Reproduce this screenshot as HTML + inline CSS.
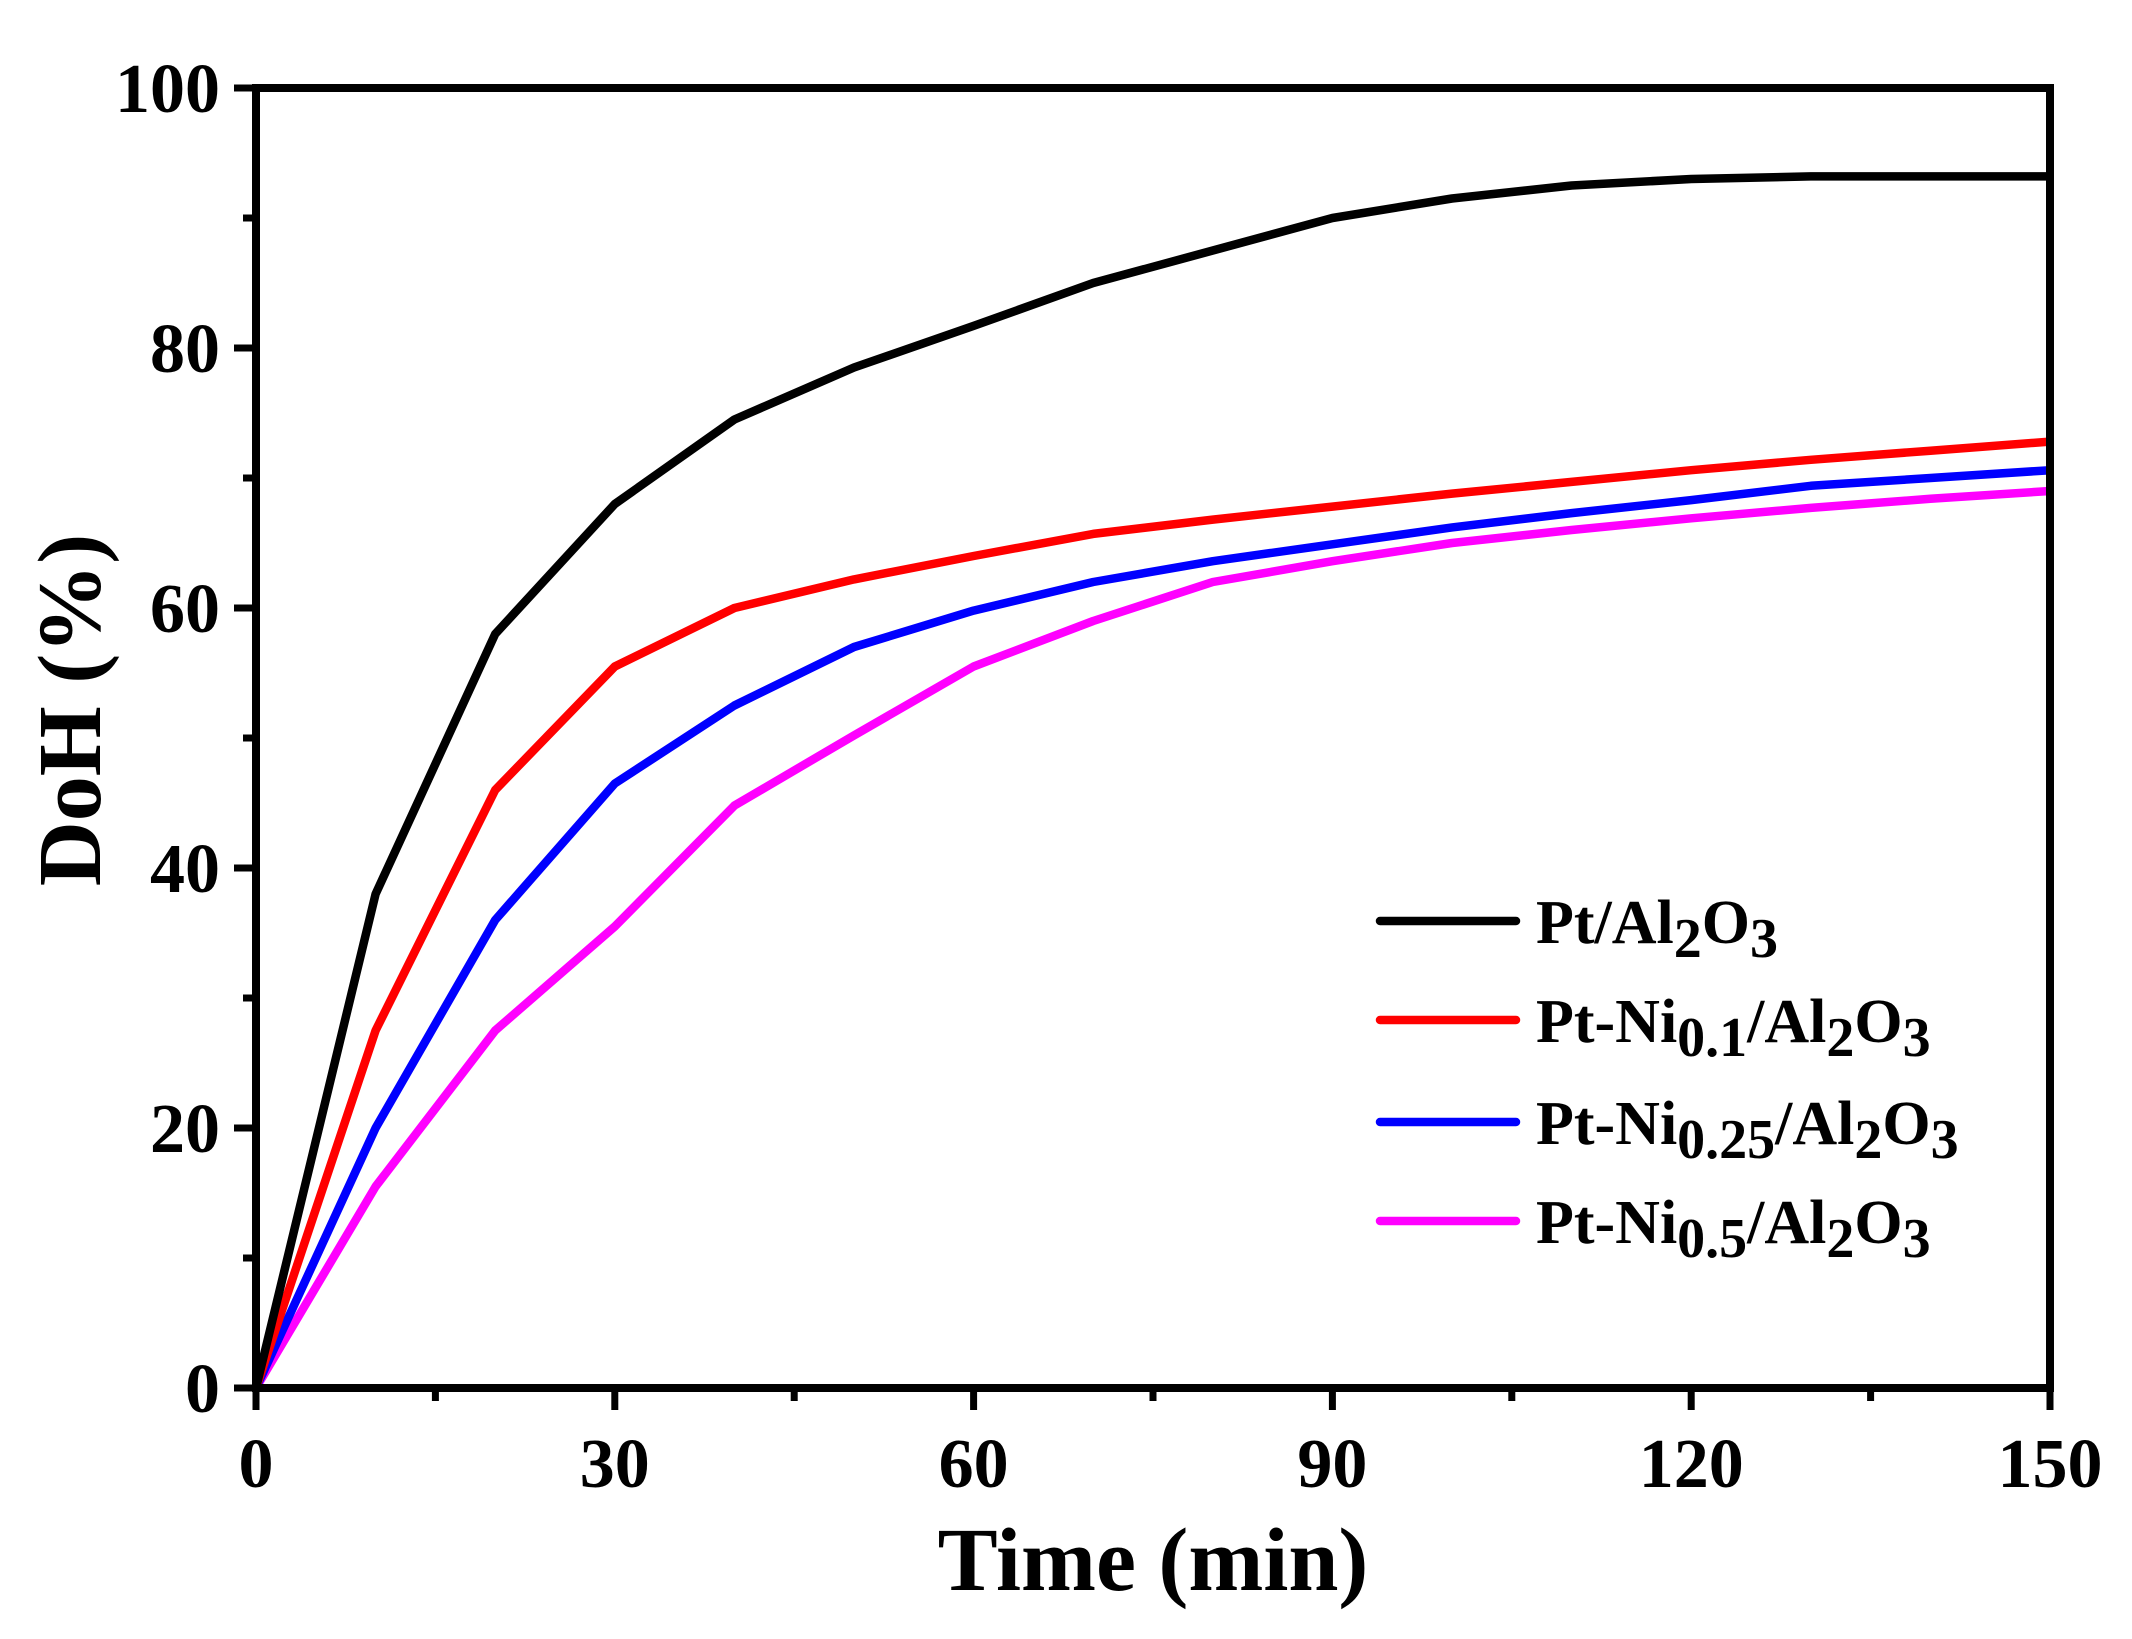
<!DOCTYPE html>
<html><head><meta charset="utf-8"><style>
html,body{margin:0;padding:0;background:#fff;}
svg{display:block;}
text{font-family:"Liberation Serif",serif;font-weight:bold;fill:#000;}
</style></head><body>
<svg id="chart" width="2132" height="1639" viewBox="0 0 2132 1639">
<g id="axes"></g>
<g id="series"></g>
<rect x="256" y="88" width="1794" height="1300" fill="none" stroke="#000" stroke-width="8"/>
<text x="1153" y="1590" font-size="90" text-anchor="middle">Time (min)</text>
<text transform="translate(100,710) rotate(-90)" font-size="90" text-anchor="middle">DoH (%)</text>
<g id="legend"></g>
</svg>
<script>
const times=[0,10,20,30,40,50,60,70,80,90,100,110,120,130,140,150];
const ptAl=[0,38,58,68,74.5,78.5,81.7,85,87.5,90,91.5,92.5,93,93.2,93.2,93.2];
const ptNi01=[0,27.5,46,55.5,60,62.2,64,65.7,66.8,67.8,68.8,69.7,70.6,71.4,72.1,72.8];
const ptNi025=[0,20,36,46.5,52.5,57,59.8,62,63.6,64.9,66.2,67.3,68.3,69.4,70,70.6];
const ptNi05=[0,15.5,27.5,35.5,44.8,50.2,55.5,59,62,63.6,65,66,66.9,67.7,68.4,69];
const xTicks=[0,30,60,90,120,150];
const yTicks=[0,20,40,60,80,100];
const seriesNames=["Pt/Al2O3","Pt-Ni0.1/Al2O3","Pt-Ni0.25/Al2O3","Pt-Ni0.5/Al2O3"];
const seriesColors=["#000000","#ff0000","#0000ff","#ff00ff"];

const NS="http://www.w3.org/2000/svg";
const X0=256,X1=2050,Y0=1388,Y1=88;
const xs=v=>X0+(v-0)/(150-0)*(X1-X0);
const ys=v=>Y0-(v-0)/(100-0)*(Y0-Y1);
function mk(tag,attrs,parent){const e=document.createElementNS(NS,tag);for(const k in attrs)e.setAttribute(k,attrs[k]);parent.appendChild(e);return e;}
const axes=document.getElementById('axes');
for(let v=0;v<=150;v+=15){
  const major=v%30===0;
  const t=mk('line',{x1:xs(v),x2:xs(v),y1:Y0,y2:Y0+(major?22:13),stroke:'#000','stroke-width':7},axes);
  
  
}
xTicks.forEach(v=>{
  const t=mk('text',{x:xs(v),y:1487,'font-size':70,'text-anchor':'middle'},axes);
  t.textContent=v;
  
  
});
for(let v=0;v<=100;v+=10){
  const major=v%20===0;
  const t=mk('line',{x1:X0,x2:X0-(major?22:13),y1:ys(v),y2:ys(v),stroke:'#000','stroke-width':7},axes);
  
  
}
yTicks.forEach(v=>{
  const t=mk('text',{x:220,y:ys(v)+24,'font-size':70,'text-anchor':'end'},axes);
  t.textContent=v;
  
  
});
const sg=document.getElementById('series');
[ptAl,ptNi01,ptNi025,ptNi05].slice().reverse().forEach((arr,ri)=>{
  const i=3-ri;
  const p=mk('polyline',{points:arr.map((v,j)=>xs(times[j])+','+ys(v)).join(' '),fill:'none',stroke:seriesColors[i],'stroke-width':8.5,'stroke-linejoin':'round'},sg);
  
  
});
const lg=document.getElementById('legend');
const ly=[921,1020,1122,1221];
ly.forEach((y,i)=>{
  const l=mk('line',{x1:1380,x2:1516,y1:y,y2:y,stroke:seriesColors[i],'stroke-width':8.5,'stroke-linecap':'round'},lg);
  
  
  const t=mk('text',{x:1536,y:y+22,'font-size':62},lg);
  
  
  const parts = i===0
    ? [["Pt/Al",0],["2",1],["O",0],["3",1]]
    : [["Pt-Ni",0],[["0.1","0.25","0.5"][i-1],1],["/Al",0],["2",1],["O",0],["3",1]];
  parts.forEach(([s,sub])=>{
    const ts=mk('tspan',{},t);
    if(sub){ts.setAttribute('baseline-shift','-25%');ts.setAttribute('font-size','56');}
    ts.textContent=s;
  });
});
</script>
</body></html>
